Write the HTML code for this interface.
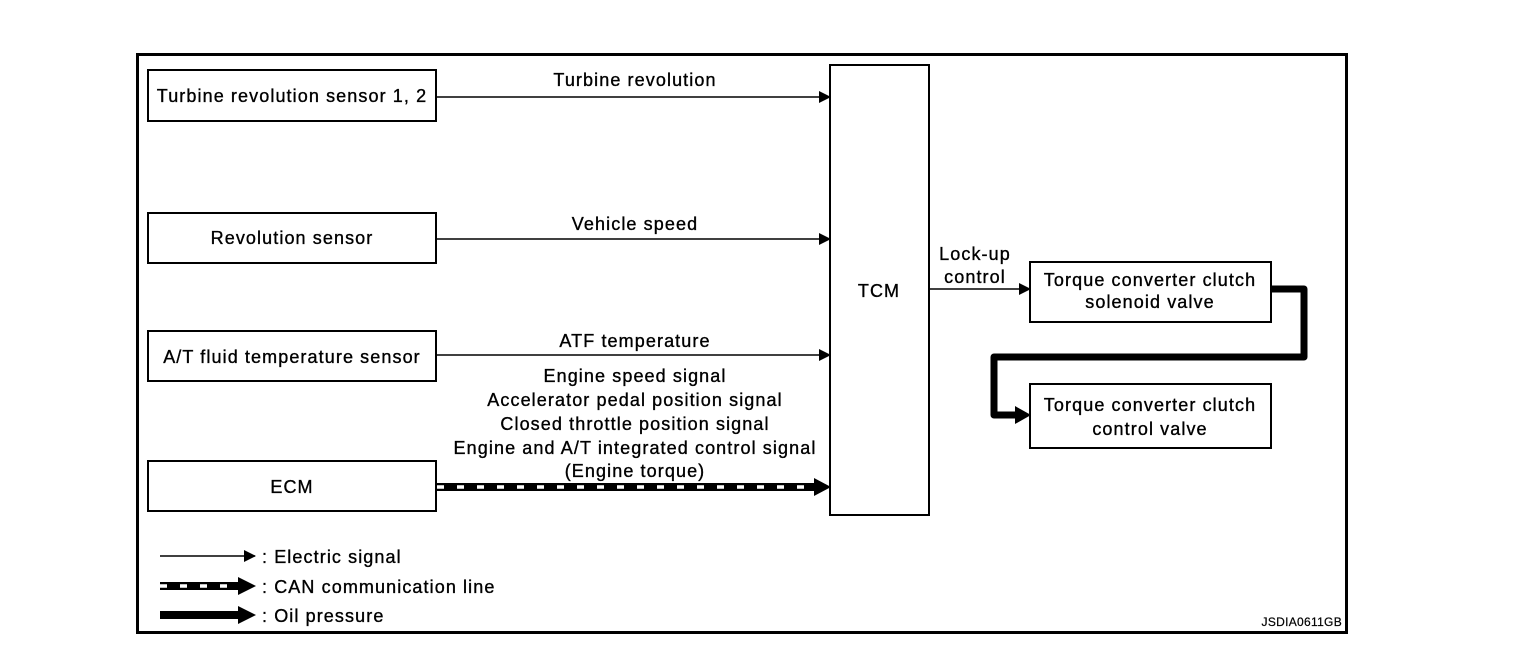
<!DOCTYPE html>
<html><head><meta charset="utf-8"><style>
html,body{margin:0;padding:0;background:#fff;}
svg{display:block;}
text{font-family:"Liberation Sans",Arial,sans-serif;font-size:18px;letter-spacing:1.1px;fill:#000;stroke:#000;stroke-width:0.35px;}
</style></head><body>
<svg width="1536" height="654" viewBox="0 0 1536 654" xmlns="http://www.w3.org/2000/svg">
<defs>
<marker id="a" markerWidth="12" markerHeight="12" refX="11" refY="6" orient="auto" markerUnits="userSpaceOnUse"><path d="M0,0 L12,6 L0,12 z" fill="#000"/></marker>
</defs>
<rect x="137.5" y="54.5" width="1209" height="578" fill="none" stroke="#000" stroke-width="3"/>
<g fill="#fff" stroke="#000" stroke-width="2">
<rect x="148" y="70" width="288" height="51"/>
<rect x="148" y="213" width="288" height="50"/>
<rect x="148" y="331" width="288" height="50"/>
<rect x="148" y="461" width="288" height="50"/>
<rect x="830" y="65" width="99" height="450"/>
<rect x="1030" y="262" width="241" height="60"/>
<rect x="1030" y="384" width="241" height="64"/>
</g>
<g text-anchor="middle">
<text x="292" y="102">Turbine revolution sensor 1, 2</text>
<text x="292" y="244">Revolution sensor</text>
<text x="292" y="363">A/T fluid temperature sensor</text>
<text x="292" y="493">ECM</text>
<text x="879" y="297">TCM</text>
<text x="1150" y="286">Torque converter clutch</text>
<text x="1150" y="308">solenoid valve</text>
<text x="1150" y="411">Torque converter clutch</text>
<text x="1150" y="435">control valve</text>
<text x="635" y="86">Turbine revolution</text>
<text x="635" y="230">Vehicle speed</text>
<text x="635" y="347">ATF temperature</text>
<text x="635" y="382">Engine speed signal</text>
<text x="635" y="406">Accelerator pedal position signal</text>
<text x="635" y="430">Closed throttle position signal</text>
<text x="635" y="454">Engine and A/T integrated control signal</text>
<text x="635" y="477">(Engine torque)</text>
<text x="975" y="260">Lock-up</text>
<text x="975" y="283">control</text>
</g>
<g stroke="#000" stroke-width="1.5" fill="none">
<line x1="436" y1="97" x2="830" y2="97" marker-end="url(#a)"/>
<line x1="436" y1="239" x2="830" y2="239" marker-end="url(#a)"/>
<line x1="436" y1="355" x2="830" y2="355" marker-end="url(#a)"/>
<line x1="929" y1="289" x2="1030" y2="289" marker-end="url(#a)"/>
<line x1="160" y1="556" x2="255" y2="556" marker-end="url(#a)"/>
</g>
<line x1="437" y1="487" x2="818" y2="487" stroke="#000" stroke-width="8"/>
<line x1="437" y1="487" x2="815" y2="487" stroke="#fff" stroke-width="3.5" stroke-dasharray="7 13"/>
<path d="M814,478 L831,487 L814,496 z" fill="#000"/>
<line x1="160" y1="586" x2="242" y2="586" stroke="#000" stroke-width="8"/>
<line x1="160" y1="586" x2="240" y2="586" stroke="#fff" stroke-width="3.5" stroke-dasharray="7 13"/>
<path d="M238,577 L256,586 L238,595 z" fill="#000"/>
<path d="M1271,289 L1304,289 L1304,357 L994,357 L994,415 L1018,415" fill="none" stroke="#000" stroke-width="7" stroke-linejoin="round"/>
<path d="M1015,406 L1031,415 L1015,424 z" fill="#000"/>
<line x1="160" y1="615" x2="242" y2="615" stroke="#000" stroke-width="8"/>
<path d="M238,606 L256,615 L238,624 z" fill="#000"/>
<text x="262" y="563">: Electric signal</text>
<text x="262" y="593">: CAN communication line</text>
<text x="262" y="622">: Oil pressure</text>
<text x="1342" y="626" text-anchor="end" style="font-size:12px;letter-spacing:0.3px;stroke-width:0.2px">JSDIA0611GB</text>
</svg>
</body></html>
